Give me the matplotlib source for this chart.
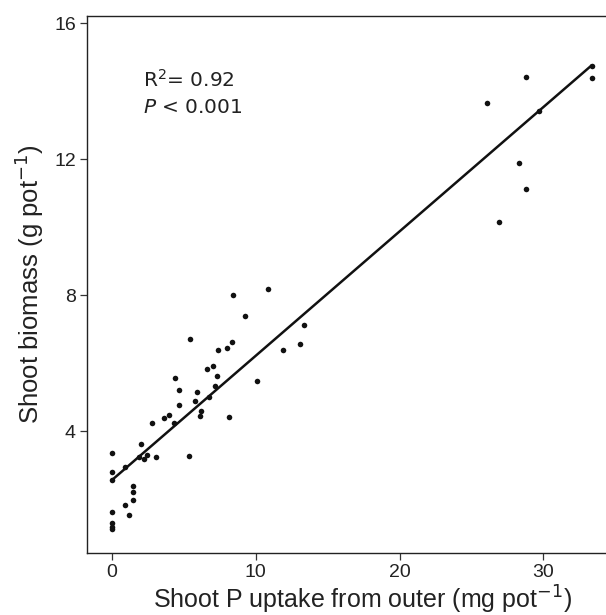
import matplotlib
matplotlib.use("Agg")
import matplotlib.pyplot as plt

# shoot P uptake from outer (mg pot-1) vs shoot biomass (g pot-1)
p_uptake = [9.26, 5.42, 8.36, 7.99, 7.34, 11.9, 7.01, 6.60, 7.29, 4.40,
            10.09, 4.63, 7.13, 5.90, 6.71, 5.79, 4.63, 6.20, 6.13, 8.10,
            3.94, 3.63, 4.31, 2.75, 2.04, 1.85, 2.22, 2.45, 3.03, 5.35,
            0.0, 0.88, 0.0, 0.0, 1.48, 1.44, 1.44, 0.93, 1.16, 0.0,
            0.0, 0.0, 0.0, 13.35, 13.06, 8.4, 10.83,
            28.8, 33.36, 33.36, 26.06, 29.72, 28.29, 28.8, 26.9]
biomass = [7.39, 6.70, 6.63, 6.45, 6.40, 6.39, 5.93, 5.84, 5.63, 5.56,
           5.47, 5.22, 5.32, 5.15, 5.00, 4.88, 4.78, 4.59, 4.45, 4.41,
           4.46, 4.39, 4.24, 4.25, 3.62, 3.24, 3.18, 3.30, 3.24, 3.26,
           3.35, 2.93, 2.79, 2.55, 2.37, 2.21, 1.96, 1.81, 1.54, 1.61,
           1.30, 1.18, 1.11, 7.13, 6.55, 8.0, 8.18,
           14.42, 14.74, 14.39, 13.67, 13.41, 11.90, 11.12, 10.15]

# regression line
fit_intercept = 2.56
fit_slope = 0.366
fit_x = [0.0, 33.3]

x_ticks = [0, 10, 20, 30]
y_ticks = [4, 8, 12, 16]

fig = plt.figure(figsize=(6.06, 6.15), dpi=100)
ax = fig.add_axes([0.1436, 0.1008, 0.8564, 0.8732])

ax.scatter(p_uptake, biomass, s=16, color='#111111', zorder=3, linewidths=0)
ax.plot(fit_x, [fit_intercept + fit_slope * x for x in fit_x],
        color='#111111', linewidth=1.8, zorder=2)

ax.set_xlim(-1.74, 34.35)
ax.set_ylim(0.41, 16.22)
ax.set_xticks(x_ticks)
ax.set_yticks(y_ticks)

for side in ['left', 'bottom', 'top']:
    ax.spines[side].set_color('#222222')
    ax.spines[side].set_linewidth(1.0)
ax.spines['right'].set_visible(False)

ax.tick_params(direction='out', length=5, width=0.9, color='#333333',
               labelsize=14, labelcolor='#222222', pad=3)
for lab in ax.get_xticklabels() + ax.get_yticklabels():
    lab.set_family('Liberation Sans')

ax.set_xlabel('Shoot P uptake from outer (mg pot$^{-1}$)', fontsize=18,
              family='Liberation Sans', color='#222222', labelpad=2)
ax.xaxis.label.set_x(0.53)
ax.set_ylabel('Shoot biomass (g pot$^{-1}$)', fontsize=18.5,
              family='Liberation Sans', color='#222222', labelpad=6)

ax.text(0.107, 0.868, 'R$^2$= 0.92', transform=ax.transAxes, fontsize=14.5,
        color='#222222', va='baseline', ha='left')
ax.text(0.107, 0.820, '$\\it{P}$ < 0.001', transform=ax.transAxes, fontsize=14.5,
        color='#222222', va='baseline', ha='left')

fig.savefig('out.png', dpi=100)
